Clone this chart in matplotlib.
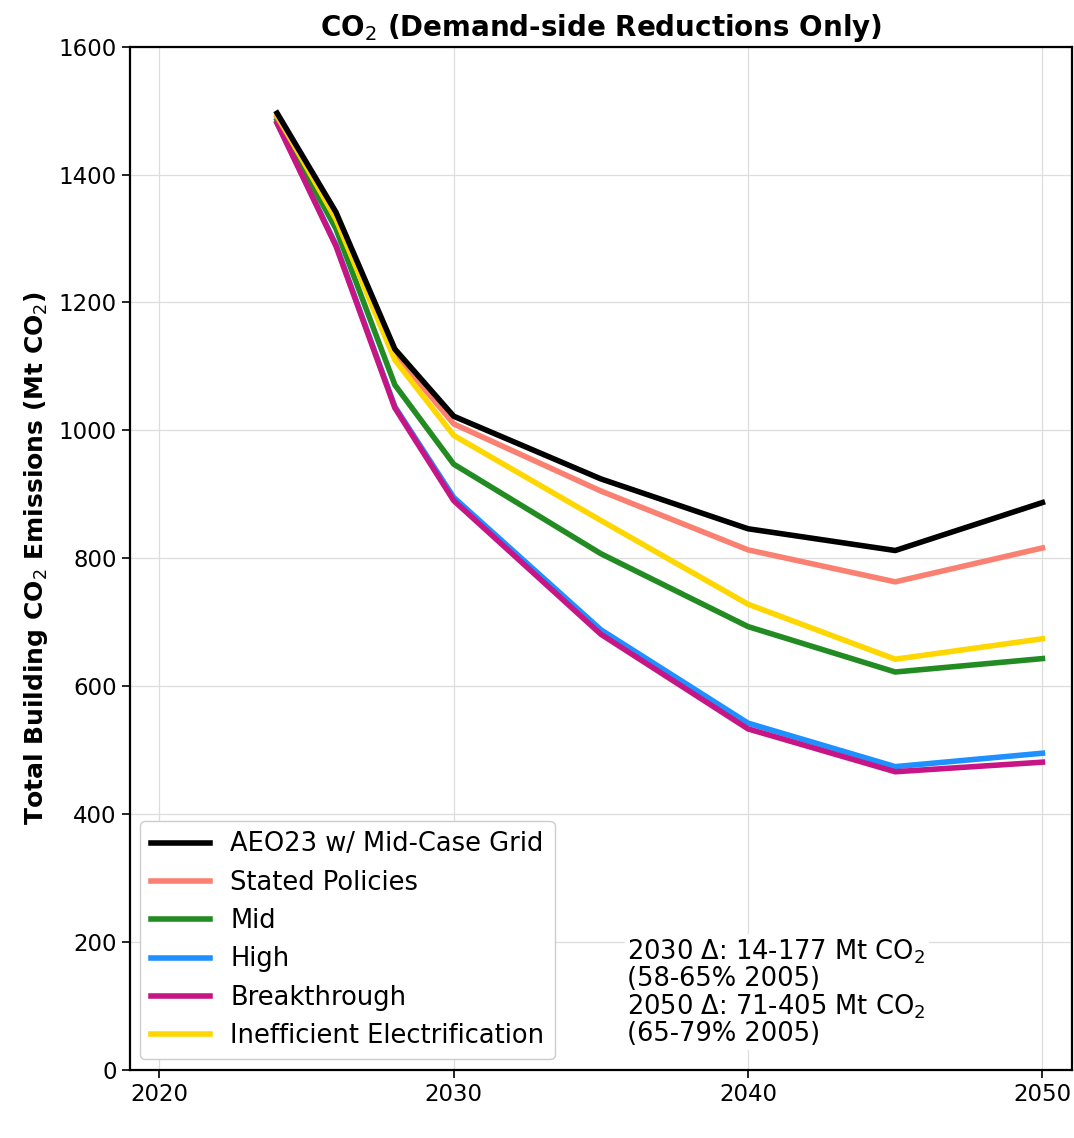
import matplotlib.pyplot as plt

years = [2024, 2026, 2028, 2030, 2035, 2040, 2045, 2050]

aeo23 = [1496, 1341, 1127, 1022, 924, 846, 812, 887]
stated = [1490, 1336, 1120, 1010, 905, 813, 763, 816]
mid = [1485, 1315, 1071, 947, 807, 693, 622, 643]
high = [1481, 1290, 1037, 895, 688, 542, 474, 495]
breakthrough = [1480, 1288, 1035, 890, 681, 533, 466, 481]
ineff = [1493, 1330, 1110, 992, 859, 728, 642, 674]

names = ['AEO23 w/ Mid-Case Grid', 'Stated Policies', 'Mid', 'High',
         'Breakthrough', 'Inefficient Electrification']
series = [aeo23, stated, mid, high, breakthrough, ineff]
colors = ['black', 'salmon', 'forestgreen', 'dodgerblue', 'mediumvioletred', 'gold']
zorders = [6, 5, 4, 3, 4, 5]

fig, ax = plt.subplots(figsize=(10.74, 11.38), dpi=100)
fig.subplots_adjust(left=0.121, right=0.998, top=0.959, bottom=0.06)

for vals, name, c, z in zip(series, names, colors, zorders):
    ax.plot(years, vals, color=c, lw=4, label=name, zorder=z)

ax.set_xlim(2019, 2051)
ax.set_ylim(0, 1600)
ax.set_xticks([2020, 2030, 2040, 2050])
ax.set_yticks(range(0, 1601, 200))
ax.tick_params(labelsize=16.5, width=1.2, length=6)
ax.grid(True, color='#dddddd', lw=0.9)
ax.set_axisbelow(True)
for s in ax.spines.values():
    s.set_linewidth(1.6)

ax.set_title('CO$_2$ (Demand-side Reductions Only)', fontsize=20, fontweight='bold', pad=8)
ax.set_ylabel('Total Building CO$_2$ Emissions (Mt CO$_2$)', fontsize=18, fontweight='bold', labelpad=6)

ax.legend(loc='lower left', fontsize=18.5, framealpha=1, borderaxespad=0.4,
          handlelength=2.3, labelspacing=0.48)

ax.text(2035.9, 35, '2030 Δ: 14-177 Mt CO$_2$\n(58-65% 2005)\n2050 Δ: 71-405 Mt CO$_2$\n(65-79% 2005)',
        fontsize=18.5, ha='left', va='bottom', linespacing=1.02,
        bbox=dict(facecolor='white', edgecolor='none', pad=2), zorder=7)

fig.savefig('out.png', dpi=100)
